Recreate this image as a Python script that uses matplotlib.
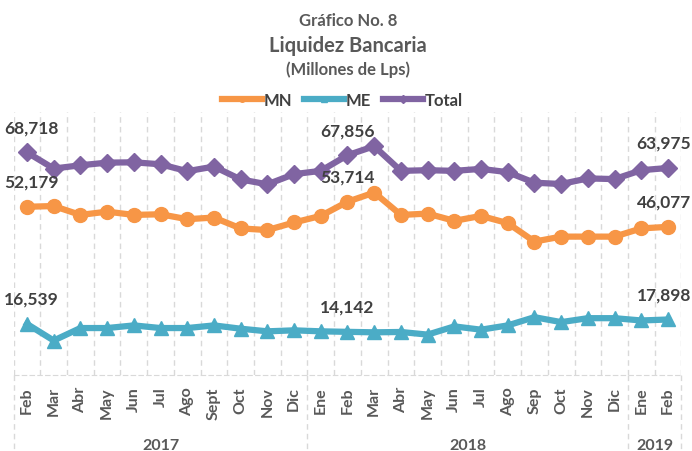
import matplotlib.pyplot as plt

plt.rcParams['font.family'] = ['Lato', 'DejaVu Sans']

# ------------------------------
# data (millones de Lps), Feb 2017 .. Feb 2019
# ------------------------------
months = ["Feb", "Mar", "Abr", "May", "Jun", "Jul", "Ago", "Sept", "Oct", "Nov", "Dic",
          "Ene", "Feb", "Mar", "Abr", "May", "Jun", "Jul", "Ago", "Sep", "Oct", "Nov", "Dic",
          "Ene", "Feb"]
years = ["2017", "2018", "2019"]
year_start = [0, 11, 23]   # index where each year begins

mn = [52179, 52400, 49700, 50700, 49700, 49900, 48400, 48900, 45600, 45100, 47400, 49400,
      53714, 56500, 49700, 50100, 47900, 49400, 47200, 41600, 43100, 43100, 43100, 45600, 46077]
me = [16539, 11500, 15300, 15300, 16100, 15300, 15300, 16100, 15100, 14300, 14600, 14300,
      14142, 14000, 14100, 13300, 15800, 14800, 16100, 18600, 17100, 18300, 18300, 17600, 17898]
total = [68718, 63800, 64800, 65600, 65700, 65100, 63000, 64400, 60500, 59000, 62100, 63100,
         67856, 70600, 63100, 63300, 63100, 63700, 62700, 59500, 59100, 60800, 60600, 63300, 63975]

labeled = [0, 12, 24]   # Feb of each year

c_mn = "#F79646"
c_me = "#4BACC6"
c_tot = "#8064A2"
txt = "#404040"
grid = "#D9D9D9"

fig = plt.figure(figsize=(6.92, 4.52), dpi=100)
ax = fig.add_axes([0.0197, 0.168, 0.9649, 0.582])

x = list(range(len(months)))
ax.plot(x, mn, color=c_mn, lw=4.5, marker="o", ms=10, label="MN", zorder=3)
ax.plot(x, me, color=c_me, lw=4.5, marker="^", ms=10, label="ME", zorder=3)
ax.plot(x, total, color=c_tot, lw=4.5, marker="D", ms=9.5, label="Total", zorder=3)

# data labels
for series in (mn, me, total):
    for i in labeled:
        dx = 3 if i == 0 else (-3 if i == len(x) - 1 else 0)
        ax.annotate(f"{series[i]:,}", (i, series[i]), xytext=(dx, 18),
                    textcoords="offset points", ha="center", va="center",
                    fontsize=12.5, fontweight="bold", color=txt)

ax.set_xlim(-0.5, len(x) - 0.5)
ax.set_ylim(1000, 81000)
ax.set_yticks([])
for s in ("top", "left", "right"):
    ax.spines[s].set_visible(False)
ax.spines["bottom"].set_color(grid)
ax.spines["bottom"].set_linestyle((0, (4, 3)))

# dashed vertical lines at category borders
for b in range(len(x) + 1):
    ax.axvline(b - 0.5, color=grid, lw=1, ls=(0, (4, 3)), zorder=1)

# year separators run down through the labels
xt = ax.get_xaxis_transform()
for b in year_start + [len(x)]:
    ax.plot([b - 0.5, b - 0.5], [0, -0.29], transform=xt, color=grid, lw=1,
            ls=(0, (4, 3)), clip_on=False)

ax.set_xticks(x)
ax.set_xticklabels(months, rotation=90, fontsize=11.5, fontweight="bold", color="#595959",
                   va="top")
ax.tick_params(axis="x", length=0, pad=8)

ends = year_start[1:] + [len(x)]
for yr, a, b in zip(years, year_start, ends):
    ax.text((a + b - 1) / 2, -0.265, yr, transform=xt, ha="center", va="center",
            fontsize=11.5, fontweight="bold", color="#595959")

# titles
fig.text(0.503, 1 - 21 / 452, "Gráfico No. 8", ha="center", va="center",
         fontsize=12, fontweight="bold", color="#595959")
fig.text(0.503, 1 - 46 / 452, "Liquidez Bancaria", ha="center", va="center",
         fontsize=14.5, fontweight="bold", color="#595959")
fig.text(0.503, 1 - 70 / 452, "(Millones de Lps)", ha="center", va="center",
         fontsize=12, fontweight="bold", color="#595959")

leg = fig.legend(loc="center", bbox_to_anchor=(0.495, 1 - 101 / 452), ncol=3, frameon=False,
                 handlelength=2.4, handletextpad=0.1, columnspacing=0.7, markerscale=0.4,
                 prop={"size": 12, "weight": "bold"})
for t in leg.get_texts():
    t.set_color(txt)

fig.savefig("out.png", dpi=100)
